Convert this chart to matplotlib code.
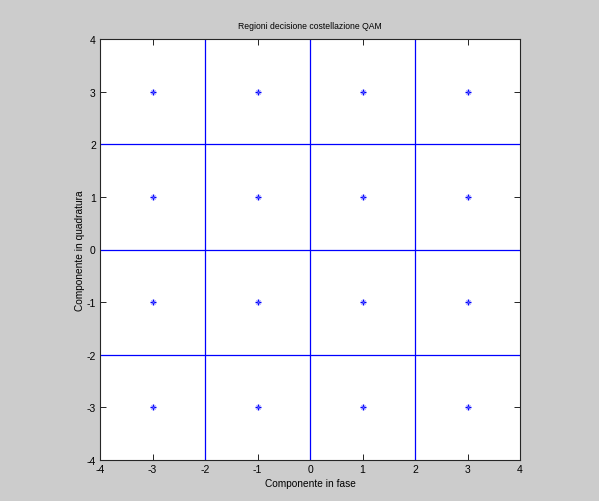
import numpy as np
import matplotlib.pyplot as plt

plt.rcParams['font.family'] = ['Liberation Sans', 'DejaVu Sans']
plt.rcParams['font.size'] = 7
plt.rcParams['axes.unicode_minus'] = False

levels = [-3, -1, 1, 3]
boundaries = [-2, 0, 2]
ticks = [-4, -3, -2, -1, 0, 1, 2, 3, 4]

I, Q = np.meshgrid(levels, levels)

fig = plt.figure(figsize=(5.99, 5.02), dpi=100, facecolor='#cccccc')
ax = fig.add_axes([100 / 599, 1 - 461 / 502, 420 / 599, 421 / 502])
ax.set_facecolor('white')

for b in boundaries:
    ax.axvline(b, color='#0000ff', linewidth=0.9)
    ax.axhline(b, color='#0000ff', linewidth=0.9)

# MATLAB-style '*' marker: small plus with a faint diagonal cross
ax.plot(I.ravel(), Q.ravel(), linestyle='none', marker='+', color='#0000ff',
        markersize=5, markeredgewidth=1.0)
ax.plot(I.ravel(), Q.ravel(), linestyle='none', marker='x', color='#6666ff',
        markersize=3, markeredgewidth=0.6)

ax.set_xlim(-4, 4)
ax.set_ylim(-4, 4)
ax.set_xticks(ticks)
ax.set_yticks(ticks)
ax.tick_params(direction='in', length=4, width=0.6, top=True, right=True,
               labelsize=7.5, pad=3)
for s in ax.spines.values():
    s.set_linewidth(0.8)
    s.set_color('#262626')

ax.set_title('Regioni decisione costellazione QAM', fontsize=6.2, pad=8)
ax.set_xlabel('Componente in fase', fontsize=7.3, labelpad=3)
ax.set_ylabel('Componente in quadratura', fontsize=7.3, labelpad=1)

plt.savefig('out.png', dpi=100, facecolor=fig.get_facecolor())
